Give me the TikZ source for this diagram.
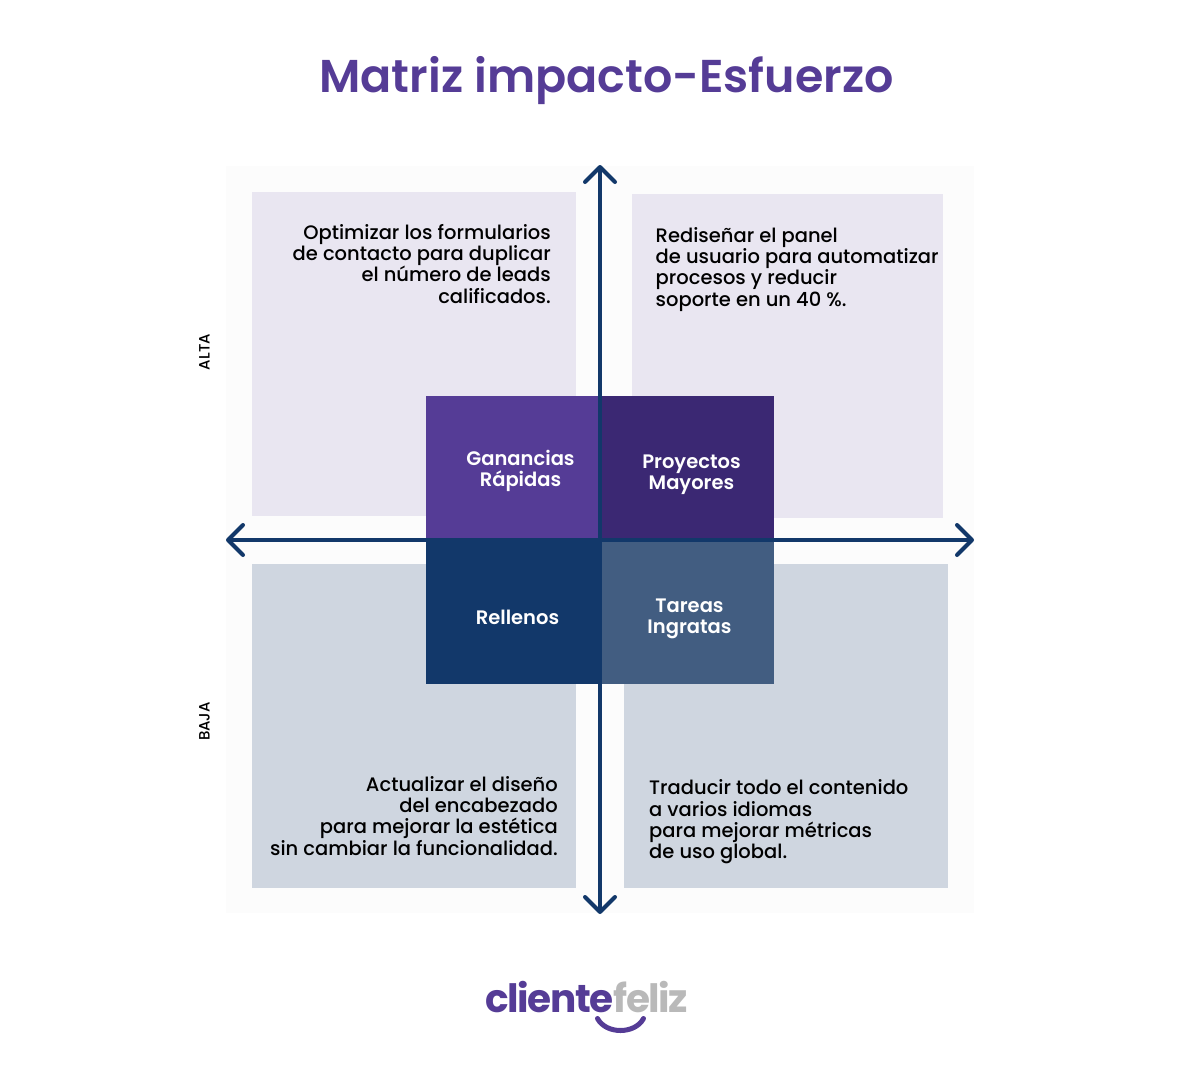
\documentclass[tikz,border=0pt]{standalone}
\usepackage{fontspec}
\setmainfont{Poppins}
\newfontfamily\medfont{Poppins Medium}
\newfontfamily\semifont{Poppins SemiBold}
\usetikzlibrary{arrows.meta}
\definecolor{titlecol}{HTML}{553C96}
\definecolor{darkcol}{HTML}{3B2873}
\definecolor{navycol}{HTML}{12386A}
\definecolor{slatecol}{HTML}{425D81}
\definecolor{lilaccol}{HTML}{E9E6F1}
\definecolor{greycol}{HTML}{CFD6E0}
\definecolor{backcol}{HTML}{FCFCFC}
\definecolor{felizcol}{HTML}{B9B9B9}
\tikzset{
  panel/.style={anchor=north west,inner sep=0pt,outer sep=0pt},
  core/.style={panel,text=white,align=center,font=\semifont\fontsize{19.5}{21.3}\selectfont},
  note/.style={inner sep=0pt,text=black,font=\medfont\fontsize{19.5}{21.3}\selectfont},
  axis/.style={draw=navycol,line width=4pt,line cap=round,line join=round,{Straight Barb[length=15pt,width=30pt,line width=4pt,round]}-{Straight Barb[length=15pt,width=30pt,line width=4pt,round]}},
  level/.style={rotate=90,inner sep=0pt,text=black,font=\medfont\fontsize{15}{18}\selectfont}
}
\begin{document}
\begin{tikzpicture}[x=1pt,y=-1pt]
\useasboundingbox (0,0) rectangle (1200,1069);
% Title
\node[inner sep=0pt,text=titlecol,font=\semifont\fontsize{46}{50}\selectfont] (title) at (606.5,81) {Matriz impacto-Esfuerzo};
% Panels
\node[panel,fill=backcol,minimum width=748pt,minimum height=747pt] (back) at (226,166) {};
\node[panel,fill=lilaccol,minimum width=324pt,minimum height=324pt] (paneltl) at (252,192) {};
\node[panel,fill=lilaccol,minimum width=311pt,minimum height=324pt] (paneltr) at (632,194) {};
\node[panel,fill=greycol,minimum width=324pt,minimum height=324pt] (panelbl) at (252,564) {};
\node[panel,fill=greycol,minimum width=324pt,minimum height=324pt] (panelbr) at (624,564) {};
% Notes
\node[note,align=right,anchor=north east] (notetl) at (551,224) {Optimizar los formularios\\de contacto para duplicar\\el número de leads\\calificados.};
\node[note,align=left,anchor=north west] (notetr) at (655.5,227) {Rediseñar el panel\\de usuario para automatizar\\procesos y reducir\\soporte en un 40 \%.};
\node[note,align=right,anchor=north east] (notebl) at (558,776) {Actualizar el diseño\\del encabezado\\para mejorar la estética\\sin cambiar la funcionalidad.};
\node[note,align=left,anchor=north west] (notebr) at (649,779.5) {Traducir todo el contenido\\a varios idiomas\\para mejorar métricas\\de uso global.};
% Core
\node[panel,fill=titlecol,minimum width=174pt,minimum height=143pt] (coretl) at (426,396) {};
\node[panel,fill=darkcol,minimum width=174pt,minimum height=143pt] (coretr) at (600,396) {};
\node[panel,fill=navycol,minimum width=176pt,minimum height=146pt] (corebl) at (426,538) {};
\node[panel,fill=slatecol,minimum width=172pt,minimum height=144pt] (corebr) at (602,540) {};
\node[core,anchor=center] (labeltl) at (520.5,471) {Ganancias\\Rápidas};
\node[core,anchor=center] (labeltr) at (691.5,474.5) {Proyectos\\Mayores};
\node[core,anchor=center] (labelbl) at (517.5,617) {Rellenos};
\node[core,anchor=center] (labelbr) at (689.5,618.5) {Tareas\\Ingratas};
% Axes
\coordinate (top) at (600,165);
\coordinate (bottom) at (600,914);
\coordinate (left) at (226,540);
\coordinate (right) at (974,540);
\draw[axis] (left) -- (right);
\draw[axis] (bottom) -- (top);
% Levels
\node[level] (alta) at (204.5,352) {ALTA};
\node[level] (baja) at (204.5,721.5) {BAJA};
% Logo
\node[inner sep=0pt,anchor=base east,text=titlecol,font=\fontsize{39}{40}\bfseries\selectfont] (cliente) at (613.5,1012) {\addfontfeature{LetterSpace=-4}cliente};
\node[inner sep=0pt,anchor=base west,text=felizcol,font=\fontsize{39}{40}\bfseries\selectfont] (feliz) at (613.5,1012) {\addfontfeature{LetterSpace=-4}feliz};
\coordinate (smilel) at (597.5,1018.5);
\coordinate (smiler) at (643.5,1018.5);
\draw[titlecol,line width=5pt,line cap=round] (smilel) .. controls (606,1034.5) and (635,1034.5) .. (smiler);
\end{tikzpicture}
\end{document}
